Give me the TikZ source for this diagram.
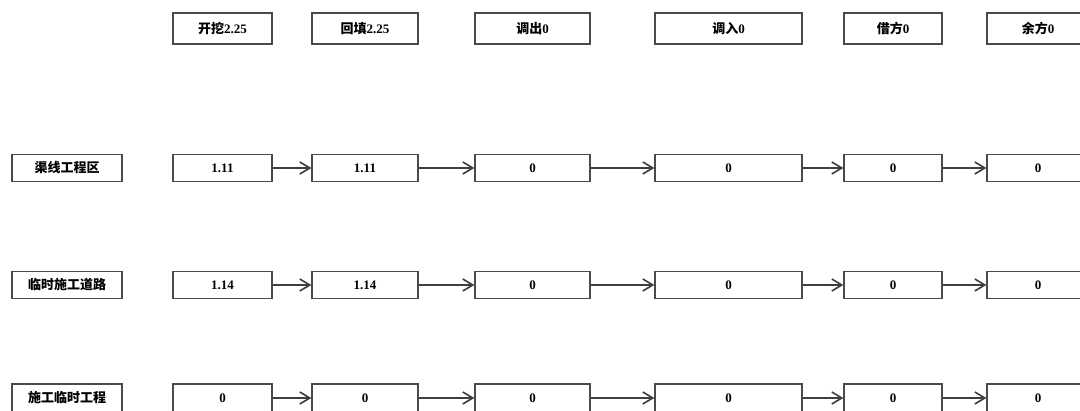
\documentclass[tikz,border=0pt]{standalone}
\usepackage{fontspec}
\setmainfont{Liberation Serif}
\newfontfamily\cjk{Noto Sans CJK SC}
\usetikzlibrary{arrows.meta}
\definecolor{edge}{HTML}{4A4A4A}
\tikzset{
  box/.style={draw=edge, line width=1.3pt, fill=white, inner sep=0pt,
    font=\fontsize{13}{15}\selectfont\bfseries, text=black},
  flow/.style={draw=edge!85!black, line width=1.8pt,
    -{Straight Barb[length=10pt,width=12pt,line width=1.6pt]}},
}
\begin{document}
\begin{tikzpicture}[x=1pt,y=-1pt]
\clip (0,0) rectangle (1080,411);
\fill[white] (0,0) rectangle (1080,411);
% columns: center/width
\def\cA{222.5}\def\wA{99}
\def\cB{365}\def\wB{106}
\def\cC{532.5}\def\wC{115}
\def\cD{728.5}\def\wD{147}
\def\cE{893}\def\wE{98}
\def\cF{1038}\def\wF{102}
% header
\node[box, minimum width=\wA, minimum height=31] (h1) at (\cA,28.5) {{\cjk 开挖}2.25};
\node[box, minimum width=\wB, minimum height=31] (h2) at (\cB,28.5) {{\cjk 回填}2.25};
\node[box, minimum width=\wC, minimum height=31] (h3) at (\cC,28.5) {{\cjk 调出}0};
\node[box, minimum width=\wD, minimum height=31] (h4) at (\cD,28.5) {{\cjk 调入}0};
\node[box, minimum width=\wE, minimum height=31] (h5) at (\cE,28.5) {{\cjk 借方}0};
\node[box, minimum width=\wF, minimum height=31] (h6) at (\cF,28.5) {{\cjk 余方}0};
% row labels
\node[box, minimum width=110, minimum height=27] (l1) at (67,168) {{\cjk 渠线工程区}};
\node[box, minimum width=110, minimum height=27] (l2) at (67,285) {{\cjk 临时施工道路}};
\node[box, minimum width=110, minimum height=28] (l3) at (67,398) {{\cjk 施工临时工程}};
% row 1
\node[box, minimum width=\wA, minimum height=27] (a1) at (\cA,168) {1.11};
\node[box, minimum width=\wB, minimum height=27] (b1) at (\cB,168) {1.11};
\node[box, minimum width=\wC, minimum height=27] (c1) at (\cC,168) {0};
\node[box, minimum width=\wD, minimum height=27] (d1) at (\cD,168) {0};
\node[box, minimum width=\wE, minimum height=27] (e1) at (\cE,168) {0};
\node[box, minimum width=\wF, minimum height=27] (f1) at (\cF,168) {0};
% row 2
\node[box, minimum width=\wA, minimum height=27] (a2) at (\cA,285) {1.14};
\node[box, minimum width=\wB, minimum height=27] (b2) at (\cB,285) {1.14};
\node[box, minimum width=\wC, minimum height=27] (c2) at (\cC,285) {0};
\node[box, minimum width=\wD, minimum height=27] (d2) at (\cD,285) {0};
\node[box, minimum width=\wE, minimum height=27] (e2) at (\cE,285) {0};
\node[box, minimum width=\wF, minimum height=27] (f2) at (\cF,285) {0};
% row 3
\node[box, minimum width=\wA, minimum height=28] (a3) at (\cA,398) {0};
\node[box, minimum width=\wB, minimum height=28] (b3) at (\cB,398) {0};
\node[box, minimum width=\wC, minimum height=28] (c3) at (\cC,398) {0};
\node[box, minimum width=\wD, minimum height=28] (d3) at (\cD,398) {0};
\node[box, minimum width=\wE, minimum height=28] (e3) at (\cE,398) {0};
\node[box, minimum width=\wF, minimum height=28] (f3) at (\cF,398) {0};
% arrows
\foreach \r in {1,2,3}{
  \draw[flow] (a\r) -- (b\r);
  \draw[flow] (b\r) -- (c\r);
  \draw[flow] (c\r) -- (d\r);
  \draw[flow] (d\r) -- (e\r);
  \draw[flow] (e\r) -- (f\r);
}
\end{tikzpicture}
\end{document}
